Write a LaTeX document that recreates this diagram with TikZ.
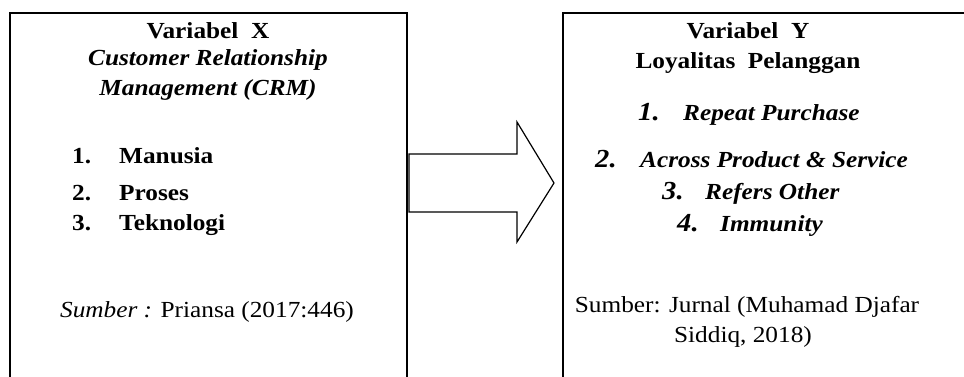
\documentclass[tikz,border=0pt]{standalone}
\usepackage{fontspec}
\setmainfont[FakeStretch=1.1]{Liberation Serif}
\begin{document}
\begin{tikzpicture}[x=1pt,y=-1pt,
  txt/.style={inner sep=0pt,anchor=base,font=\fontsize{23}{26}\selectfont},
  txtw/.style={inner sep=0pt,anchor=base west,font=\fontsize{23}{26}\selectfont},
  bt/.style={font=\fontsize{23}{26}\selectfont\bfseries},
  bit/.style={font=\fontsize{23}{26}\selectfont\bfseries\itshape},
  numw/.style={inner sep=0pt,anchor=base west,font=\fontsize{26}{28}\selectfont\bfseries\itshape},
  boxline/.style={line width=1.6pt,line join=miter}]
\useasboundingbox (0,0) rectangle (964,376);
\clip (0,0) rectangle (964,376);
\fill[white] (0,0) rectangle (964,376);
% boxes
\draw[boxline] (10,380) -- (10,13) -- (407,13) -- (407,380);
\draw[boxline] (563,380) -- (563,13) -- (968,13);
% arrow
\draw[line width=1.2pt,line join=miter] (409,154) -- (517,154) -- (517,122) -- (554,183) -- (517,242) -- (517,212) -- (409,212) -- cycle;
% left texts
\node[txt,bt] (vx) at (208,38) {Variabel\ \ X};
\node[txt,bit] (crm1) at (208,65) {Customer Relationship};
\node[txt,bit] (crm2) at (208,95) {Management (CRM)};
\node[txtw,bt] (n1) at (72,163) {1.};
\node[txtw,bt] (i1) at (119,163) {Manusia};
\node[txtw,bt] (n2) at (72,200) {2.};
\node[txtw,bt] (i2) at (119,200) {Proses};
\node[txtw,bt] (n3) at (72,230) {3.};
\node[txtw,bt] (i3) at (119,230) {Teknologi};
\node[txt] (srcx) at (207,317) {\textit{Sumber :} Priansa (2017:446)};
% right texts
\node[txt,bt] (vy) at (748,38) {Variabel\ \ Y};
\node[txt,bt] (loy) at (748,68) {Loyalitas\ \ Pelanggan};
\node[numw] (m1) at (638,120) {1.};
\node[txtw,bit] (j1) at (683,120) {Repeat Purchase};
\node[numw] (m2) at (595,167) {2.};
\node[txtw,bit] (j2) at (640,167) {Across Product \& Service};
\node[numw] (m3) at (662,199) {3.};
\node[txtw,bit] (j3) at (705,199) {Refers Other};
\node[numw] (m4) at (677,231) {4.};
\node[txtw,bit] (j4) at (720,231) {Immunity};
\node[txt] (srcy1) at (747,312) {Sumber: Jurnal (Muhamad Djafar};
\node[txt] (srcy2) at (743,342) {Siddiq, 2018)};
\end{tikzpicture}
\end{document}
